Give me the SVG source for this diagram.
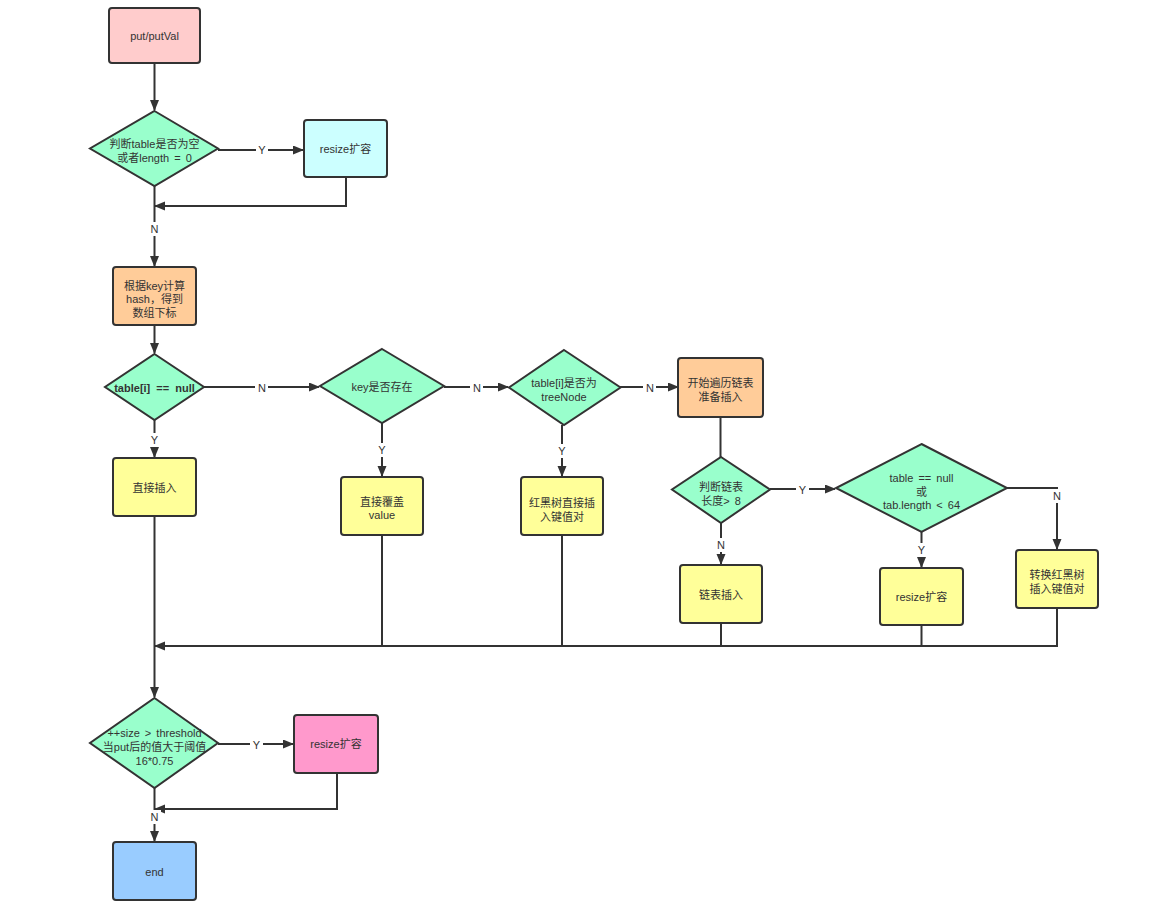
<svg xmlns="http://www.w3.org/2000/svg" width="1165" height="918" viewBox="0 0 1165 918">
<style>
.n{stroke:#333333;stroke-width:2}
.t{font-family:"Liberation Sans","Noto Sans CJK SC",sans-serif;font-size:11px;fill:#333333;text-anchor:middle;dominant-baseline:central}
.b{font-weight:bold;word-spacing:3px}
.w{word-spacing:2px}
.e{fill:none;stroke:#333333;stroke-width:2}
.lb{fill:#ffffff}
</style>
<defs>
<marker id="ar" markerUnits="userSpaceOnUse" markerWidth="12" markerHeight="10" refX="10" refY="4.5" orient="auto">
<path d="M0,0 L11,4.5 L0,9 Z" fill="#333333"/>
</marker>
</defs>
<rect width="1165" height="918" fill="#ffffff"/>

<g id="connectors">
<path class="e" d="M154.5,63 V110" marker-end="url(#ar)"/>
<path class="e" d="M218,150 H303" marker-end="url(#ar)"/>
<path class="e" d="M346,177 V206 H155" marker-end="url(#ar)"/>
<path class="e" d="M154.5,186 V266" marker-end="url(#ar)"/>
<path class="e" d="M154.5,325 V353" marker-end="url(#ar)"/>
<path class="e" d="M204,387 H319" marker-end="url(#ar)"/>
<path class="e" d="M154.5,420 V457" marker-end="url(#ar)"/>
<path class="e" d="M444,387 H508" marker-end="url(#ar)"/>
<path class="e" d="M382,423 V476" marker-end="url(#ar)"/>
<path class="e" d="M620,387 H678" marker-end="url(#ar)"/>
<path class="e" d="M562,425 V476" marker-end="url(#ar)"/>
<path class="e" d="M720.5,417 V457"/>
<path class="e" d="M770,489 H835" marker-end="url(#ar)"/>
<path class="e" d="M721,523 V564" marker-end="url(#ar)"/>
<path class="e" d="M921.5,532 V567" marker-end="url(#ar)"/>
<path class="e" d="M1007,488 H1057 V549" marker-end="url(#ar)"/>
<path class="e" d="M1057,608 V646 H155" marker-end="url(#ar)"/>
<path class="e" d="M382,535 V646"/>
<path class="e" d="M562,535 V646"/>
<path class="e" d="M721,623 V646"/>
<path class="e" d="M921.5,625 V646"/>
<path class="e" d="M154.5,516 V697" marker-end="url(#ar)"/>
<path class="e" d="M218,744 H293" marker-end="url(#ar)"/>
<path class="e" d="M337,773 V809 H155" marker-end="url(#ar)"/>
<path class="e" d="M154.5,788 V841" marker-end="url(#ar)"/>
<rect class="lb" x="256" y="143" width="12" height="14"/><text class="t" x="262" y="150">Y</text>
<rect class="lb" x="148" y="222" width="13" height="14"/><text class="t" x="154.5" y="229">N</text>
<rect class="lb" x="255" y="380" width="13" height="14"/><text class="t" x="262" y="388">N</text>
<rect class="lb" x="148" y="433" width="13" height="14"/><text class="t" x="154.5" y="440">Y</text>
<rect class="lb" x="470" y="381" width="13" height="14"/><text class="t" x="477" y="388">N</text>
<rect class="lb" x="376" y="443" width="13" height="14"/><text class="t" x="382" y="450">Y</text>
<rect class="lb" x="643" y="381" width="13" height="14"/><text class="t" x="650" y="388">N</text>
<rect class="lb" x="556" y="444" width="13" height="14"/><text class="t" x="562" y="451">Y</text>
<rect class="lb" x="796" y="483" width="13" height="14"/><text class="t" x="802.5" y="490">Y</text>
<rect class="lb" x="714" y="538" width="13" height="14"/><text class="t" x="721" y="545">N</text>
<rect class="lb" x="915" y="543" width="13" height="14"/><text class="t" x="921.5" y="550">Y</text>
<rect class="lb" x="1050" y="489" width="13" height="14"/><text class="t" x="1057" y="496">N</text>
<rect class="lb" x="250" y="738" width="13" height="14"/><text class="t" x="256.5" y="745">Y</text>
<rect class="lb" x="148" y="810" width="13" height="14"/><text class="t" x="154.5" y="817">N</text>
</g>

<g id="start">
<rect class="n" x="109" y="8" width="91" height="55" rx="3" fill="#FFCCCC"/>
<text class="t" x="154.5" y="36">put/putVal</text>
</g>
<g id="checkEmpty">
<polygon class="n" points="154.5,111 218,148.5 154.5,186 90,148.5" fill="#99FFCC"/>
<text class="t" x="154.5" y="144">判断table是否为空</text>
<text class="t w" x="154.5" y="158">或者length = 0</text>
</g>
<g id="resize1">
<rect class="n" x="304" y="120" width="83" height="57" rx="3" fill="#CCFFFF"/>
<text class="t" x="345.5" y="149">resize扩容</text>
</g>
<g id="hash">
<rect class="n" x="113" y="267" width="83" height="58" rx="3" fill="#FFCC99"/>
<text class="t" x="154.5" y="285.5">根据key计算</text>
<text class="t" x="154.5" y="299">hash，得到</text>
<text class="t" x="154.5" y="312.5">数组下标</text>
</g>
<g id="tableNull">
<polygon class="n" points="154.5,354 204,387 154.5,420 105,387" fill="#99FFCC"/>
<text class="t b" x="154.5" y="388">table[i] == null</text>
</g>
<g id="directInsert">
<rect class="n" x="113" y="458" width="83" height="58" rx="3" fill="#FFFF99"/>
<text class="t" x="154.5" y="488">直接插入</text>
</g>
<g id="keyExists">
<polygon class="n" points="382,349 444,386 382,423 320,386" fill="#99FFCC"/>
<text class="t" x="382" y="387">key是否存在</text>
</g>
<g id="overwrite">
<rect class="n" x="341" y="477" width="82" height="58" rx="3" fill="#FFFF99"/>
<text class="t" x="382" y="501.5">直接覆盖</text>
<text class="t" x="382" y="514.5">value</text>
</g>
<g id="treeNode">
<polygon class="n" points="564,350 620.5,387.5 564,425 509,387.5" fill="#99FFCC"/>
<text class="t" x="564" y="383">table[i]是否为</text>
<text class="t" x="564" y="397">treeNode</text>
</g>
<g id="treeInsert">
<rect class="n" x="521" y="477" width="82" height="58" rx="3" fill="#FFFF99"/>
<text class="t" x="562" y="503">红黑树直接插</text>
<text class="t" x="562" y="516.5">入键值对</text>
</g>
<g id="traverse">
<rect class="n" x="678" y="358" width="85" height="59" rx="3" fill="#FFCC99"/>
<text class="t" x="720.5" y="383">开始遍历链表</text>
<text class="t" x="720.5" y="397">准备插入</text>
</g>
<g id="lenCheck">
<polygon class="n" points="721,457 770,489.5 721,523 672,489.5" fill="#99FFCC"/>
<text class="t" x="721" y="487">判断链表</text>
<text class="t w" x="721" y="500.5">长度&gt; 8</text>
</g>
<g id="listInsert">
<rect class="n" x="680" y="565" width="82" height="58" rx="3" fill="#FFFF99"/>
<text class="t" x="721" y="595">链表插入</text>
</g>
<g id="tabCheck">
<polygon class="n" points="921.5,444 1007,488 921.5,532 836,488" fill="#99FFCC"/>
<text class="t w" x="921.5" y="478">table == null</text>
<text class="t" x="921.5" y="491.5">或</text>
<text class="t w" x="921.5" y="505">tab.length &lt; 64</text>
</g>
<g id="resize2">
<rect class="n" x="880" y="568" width="83" height="57" rx="3" fill="#FFFF99"/>
<text class="t" x="921.5" y="597">resize扩容</text>
</g>
<g id="treeify">
<rect class="n" x="1016" y="550" width="82" height="58" rx="3" fill="#FFFF99"/>
<text class="t" x="1057" y="575">转换红黑树</text>
<text class="t" x="1057" y="588.5">插入键值对</text>
</g>
<g id="threshold">
<polygon class="n" points="154.5,698 218,743 154.5,788 90,743" fill="#99FFCC"/>
<text class="t w" x="154.5" y="733">++size &gt; threshold</text>
<text class="t" x="154.5" y="747">当put后的值大于阈值</text>
<text class="t" x="154.5" y="760.5">16*0.75</text>
</g>
<g id="resize3">
<rect class="n" x="294" y="715" width="84" height="58" rx="3" fill="#FF99CC"/>
<text class="t" x="336" y="744">resize扩容</text>
</g>
<g id="end">
<rect class="n" x="113" y="842" width="83" height="58" rx="3" fill="#99CCFF"/>
<text class="t" x="154.5" y="872">end</text>
</g>
</svg>
